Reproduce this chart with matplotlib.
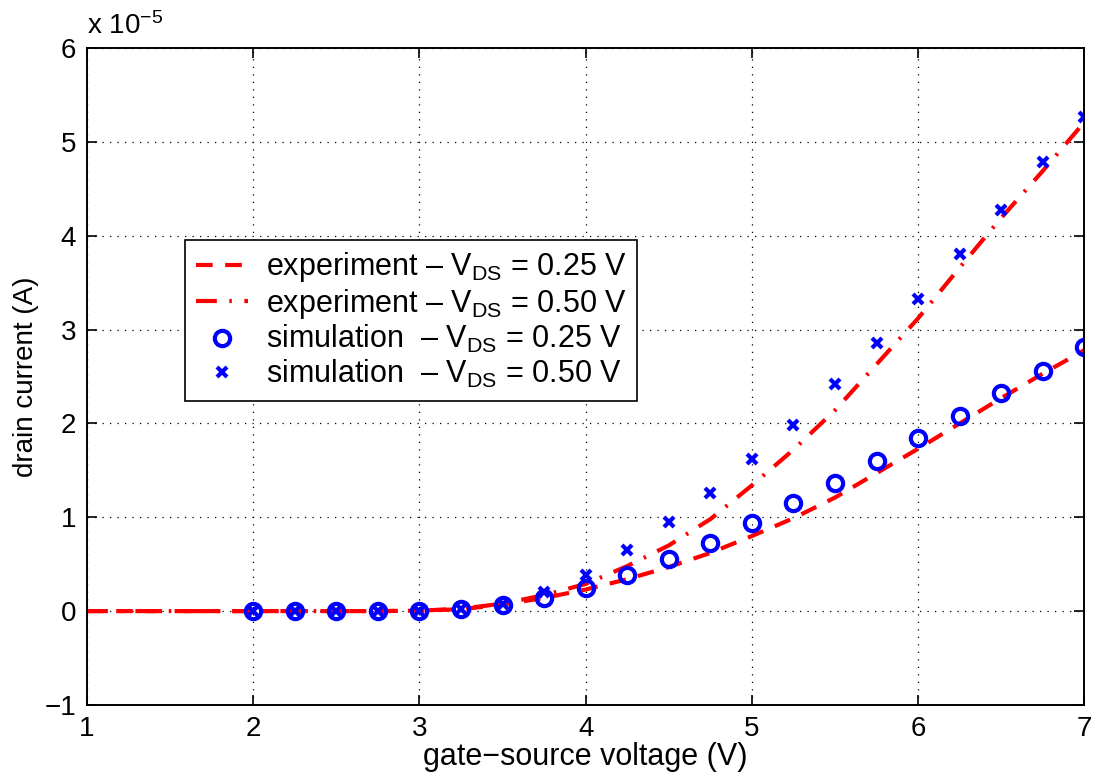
import numpy as np
import matplotlib
matplotlib.use('Agg')
import matplotlib.pyplot as plt

# gate-source voltage grid for the measured curves
vgs_exp = [1.0, 1.25, 1.5, 1.75, 2.0, 2.25, 2.5, 2.75, 3.0, 3.25, 3.5, 3.75,
           4.0, 4.25, 4.5, 4.75, 5.0, 5.25, 5.5, 5.75, 6.0, 6.25, 6.5, 6.75, 7.0]
# drain current, units of 1e-5 A
exp_025 = [0, 0, 0, 0, 0, 0, 0, 0, 0.005, 0.02, 0.07, 0.14,
           0.23, 0.34, 0.47, 0.62, 0.80, 0.99, 1.21, 1.47, 1.73, 2.0, 2.27, 2.53, 2.78]
exp_050 = [0, 0, 0, 0, 0, 0, 0, 0, 0.005, 0.025, 0.08, 0.17,
           0.29, 0.48, 0.70, 0.98, 1.34, 1.72, 2.14, 2.63, 3.12, 3.66, 4.19, 4.69, 5.21]

vgs_sim = [2.0, 2.25, 2.5, 2.75, 3.0, 3.25, 3.5, 3.75, 4.0, 4.25, 4.5,
           4.75, 5.0, 5.25, 5.5, 5.75, 6.0, 6.25, 6.5, 6.75, 7.0]
sim_025 = [0, 0, 0, 0, 0.005, 0.02, 0.06, 0.14, 0.25, 0.39, 0.56,
           0.73, 0.94, 1.15, 1.37, 1.60, 1.84, 2.08, 2.32, 2.56, 2.81]
sim_050 = [0, 0, 0, 0, 0.005, 0.025, 0.08, 0.20, 0.38, 0.65, 0.95,
           1.26, 1.62, 1.98, 2.42, 2.86, 3.32, 3.80, 4.27, 4.79, 5.26]

plt.rcParams['font.family'] = ['Liberation Sans', 'DejaVu Sans']
plt.rcParams['mathtext.fontset'] = 'custom'
plt.rcParams['mathtext.rm'] = 'Liberation Sans'
plt.rcParams['mathtext.it'] = 'Liberation Sans'

fig = plt.figure(figsize=(11.02, 7.73), dpi=100)
ax = fig.add_axes([0.079, 0.088, 0.905, 0.850])

scale = 1e-5
ax.plot(vgs_exp, np.array(exp_025) * scale, color='red', lw=3, ls=(0, (4, 3)),
        label='experiment – V$_{DS}$ = 0.25 V')
ax.plot(vgs_exp, np.array(exp_050) * scale, color='red', lw=3, ls=(0, (5, 3, 0.6, 3)),
        label='experiment – V$_{DS}$ = 0.50 V')
ax.plot(vgs_sim, np.array(sim_025) * scale, 'o', ms=11, mfc='none', mec='blue', mew=3,
        label='simulation  – V$_{DS}$ = 0.25 V')
ax.plot(vgs_sim, np.array(sim_050) * scale, 'x', ms=7, mec='blue', mew=3,
        label='simulation  – V$_{DS}$ = 0.50 V')

ax.set_xlim(1, 7)
ax.set_ylim(-1e-5, 6e-5)
ax.set_xticks(range(1, 8))
ax.set_yticks(np.arange(-1, 7) * scale)
ax.set_yticklabels(['−1', '0', '1', '2', '3', '4', '5', '6'])
ax.grid(True, color='black', ls=(0, (1, 5)), lw=0.9)
ax.tick_params(direction='in', top=True, right=True, length=7, width=1.2,
               labelsize=20, pad=8)
for s in ax.spines.values():
    s.set_linewidth(1.4)

ax.set_xlabel('gate−source voltage (V)', fontsize=22, labelpad=0)
ax.set_ylabel('drain current (A)', fontsize=20, labelpad=4)
ax.text(0.0, 1.012, 'x 10$^{-5}$', transform=ax.transAxes, fontsize=20,
        ha='left', va='bottom')

leg = ax.legend(loc='upper left', bbox_to_anchor=(0.0983, 0.708), fontsize=22,
                frameon=True, fancybox=False, edgecolor='black', framealpha=1,
                handlelength=1.7, handletextpad=0.6, borderpad=0.35,
                borderaxespad=0, labelspacing=0.08)
leg.get_frame().set_linewidth(1.2)

fig.savefig('out.png', dpi=100)
